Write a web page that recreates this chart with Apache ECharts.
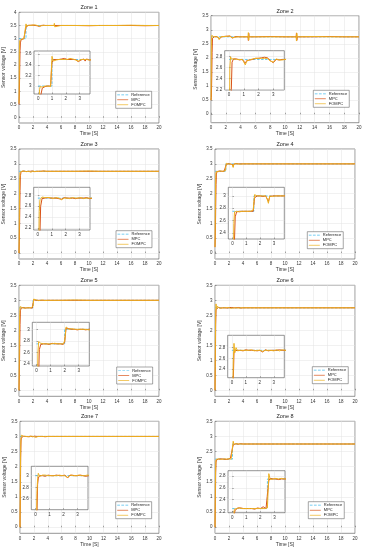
<!DOCTYPE html>
<html><head><meta charset="utf-8">
<script src="https://cdn.jsdelivr.net/npm/echarts@6/dist/echarts.min.js"></script>
<style>html,body{margin:0;padding:0;background:#fff}#c{width:370px;height:550px}</style>
</head><body><div id="c"></div>
<script>
// ---- data ----
const time = [0,0.05,0.1,0.15,0.2,
  0.3,0.4,0.5,0.6,0.7,0.8,0.9,1.0,1.1,1.2,
  1.3,1.4,1.5,1.6,1.7,1.8,1.9,2.0,2.1,2.2,
  2.3,2.4,2.5,2.6,2.7,2.8,2.9,3.0,3.1,3.2,
  3.3,3.4,3.5,3.6,3.7,3.8,
  4,5,5.05,5.1,5.15,6,8,10,11.5,11.55,11.6,11.65,12,14,16,18,20];
const seriesNames = ['Reference','MPC','FOMPC'];
const zoneTitles = ['Zone 1','Zone 2','Zone 3','Zone 4','Zone 5','Zone 6','Zone 7','Zone 8'];

const z1RefT = [0,1,20], z1RefV = [3,3.5,3.5];
const z1Mpc = [0.5,0.9,1.8,2.55,2.84,
  2.96,2.98,2.99,2.99,3.0,2.99,3.0,3.44,3.5,3.49,
  3.5,3.51,3.5,3.5,3.51,3.5,3.52,3.51,3.5,3.52,
  3.5,3.51,3.5,3.49,3.5,3.48,3.46,3.47,3.49,3.5,
  3.51,3.47,3.51,3.5,3.49,3.5,
  3.5,3.5,3.44,3.55,3.5,3.5,3.5,3.49,3.5,3.45,3.55,3.5,3.5,3.5,3.5,3.49,3.5];
const z1Fompc = [0.55,2.5,2.93,2.99,3.0,
  2.98,2.99,3.0,2.99,3.0,3.0,2.99,3.56,3.47,3.5,
  3.49,3.51,3.5,3.51,3.5,3.51,3.5,3.52,3.5,3.51,
  3.52,3.5,3.51,3.5,3.49,3.49,3.47,3.48,3.5,3.49,
  3.5,3.49,3.5,3.51,3.49,3.5,
  3.5,3.5,3.58,3.45,3.5,3.5,3.5,3.5,3.5,3.56,3.46,3.5,3.5,3.5,3.51,3.5,3.5];

const z2RefT = [0,20], z2RefV = [2.75,2.75];
const z2Mpc = [0.5,0.6,1.3,2.2,2.7,
  2.76,2.75,2.76,2.75,2.74,2.76,2.75,2.74,2.68,2.73,
  2.75,2.74,2.76,2.75,2.76,2.77,2.76,2.77,2.76,2.78,
  2.77,2.79,2.77,2.78,2.76,2.73,2.7,2.69,2.72,2.75,
  2.77,2.74,2.76,2.75,2.74,2.75,
  2.75,2.75,2.62,2.88,2.75,2.75,2.76,2.75,2.75,2.89,2.62,2.75,2.75,2.75,2.76,2.75,2.75];
const z2Fompc = [0.5,2.6,2.8,2.76,2.74,
  2.76,2.75,2.75,2.76,2.75,2.74,2.75,2.74,2.65,2.72,
  2.75,2.74,2.75,2.76,2.75,2.77,2.76,2.77,2.78,2.77,
  2.78,2.77,2.78,2.77,2.75,2.72,2.71,2.7,2.73,2.76,
  2.75,2.74,2.76,2.74,2.75,2.75,
  2.75,2.75,2.9,2.63,2.75,2.75,2.75,2.75,2.75,2.6,2.88,2.75,2.75,2.76,2.75,2.75,2.75];

const z3RefT = [0,20], z3RefV = [2.75,2.75];
const z3Mpc = [0,0.4,1.2,2.1,2.6,
  2.74,2.76,2.75,2.75,2.76,2.75,2.75,2.74,2.75,2.76,
  2.75,2.75,2.74,2.75,2.73,2.75,2.76,2.75,2.75,2.74,
  2.75,2.76,2.75,2.75,2.74,2.75,2.75,2.76,2.75,2.74,
  2.75,2.75,2.76,2.75,2.74,2.75,
  2.75,2.75,2.76,2.74,2.75,2.75,2.75,2.75,2.75,2.76,2.74,2.75,2.75,2.75,2.75,2.75,2.75];
const z3Fompc = [0,1.5,2.5,2.72,2.75,
  2.77,2.78,2.76,2.75,2.76,2.75,2.76,2.75,2.74,2.75,
  2.76,2.75,2.75,2.74,2.72,2.75,2.75,2.76,2.75,2.75,
  2.74,2.75,2.76,2.75,2.75,2.74,2.75,2.75,2.76,2.75,
  2.74,2.75,2.75,2.76,2.75,2.75,
  2.75,2.75,2.75,2.75,2.75,2.75,2.75,2.76,2.75,2.75,2.75,2.75,2.75,2.75,2.75,2.75,2.75];

const z4RefT = [0,1.55,20], z4RefV = [2.75,3,3];
const z4Mpc = [0.2,0.6,1.5,2.3,2.66,
  2.74,2.75,2.75,2.76,2.75,2.75,2.75,2.74,2.75,2.75,
  2.75,2.76,2.75,2.97,3.0,3.0,3.01,3.0,3.0,2.99,
  3.0,3.0,2.98,2.91,2.99,3.0,3.0,3.01,3.0,3.0,
  3.0,2.99,3.0,3.0,3.0,3.0,
  3.0,3.0,3.0,3.0,3.0,3.0,3.0,3.0,3.0,3.0,3.0,3.0,3.0,3.0,3.0,3.0,3.0];
const z4Fompc = [0.2,1.6,2.55,2.74,2.76,
  2.75,2.75,2.74,2.75,2.75,2.76,2.75,2.75,2.75,2.74,
  2.75,2.75,2.77,3.02,3.0,3.0,2.99,3.0,3.01,3.0,
  3.0,3.0,2.96,2.88,3.0,3.0,2.99,3.0,3.0,3.01,
  3.0,3.0,3.0,2.99,3.0,3.0,
  3.0,3.0,3.0,3.0,3.0,3.0,3.0,3.0,3.0,3.0,3.0,3.0,3.0,3.0,3.0,3.0,3.0];

const z5RefT = [0,2.0,20], z5RefV = [2.75,3,3];
const z5Mpc = [0,0.5,1.4,2.2,2.65,
  2.74,2.76,2.75,2.76,2.75,2.76,2.74,2.75,2.76,2.75,
  2.75,2.74,2.75,2.76,2.75,2.75,2.74,2.78,3.02,3.0,
  3.01,3.0,3.0,3.01,3.0,3.0,2.99,3.0,3.0,3.01,
  3.0,3.0,2.99,3.0,3.0,3.0,
  3.0,3.0,3.0,3.0,3.0,3.0,3.0,3.0,3.0,3.0,3.0,3.0,3.0,3.0,3.0,3.0,3.0];
const z5Fompc = [0,1.8,2.6,2.79,2.81,
  2.76,2.78,2.75,2.76,2.75,2.74,2.75,2.76,2.75,2.74,
  2.76,2.75,2.75,2.74,2.75,2.76,2.75,2.8,3.04,3.01,
  3.0,3.0,3.01,3.0,3.0,2.99,3.0,3.01,3.0,3.0,
  3.0,3.01,3.0,3.0,2.99,3.0,
  3.0,3.0,3.0,3.0,3.0,3.0,3.01,3.0,3.0,3.0,3.0,3.0,3.0,3.0,3.0,3.0,3.0];

const z6RefT = [0,20], z6RefV = [2.75,2.75];
const z6Mpc = [0,0.8,2.2,2.7,2.74,
  2.76,2.75,2.76,2.75,2.75,2.74,2.75,2.76,2.75,2.75,
  2.74,2.75,2.76,2.75,2.75,2.74,2.75,2.75,2.76,2.72,
  2.75,2.76,2.75,2.74,2.75,2.75,2.76,2.75,2.74,2.75,
  2.75,2.76,2.75,2.75,2.74,2.75,
  2.75,2.75,2.75,2.75,2.75,2.75,2.75,2.75,2.75,2.75,2.75,2.75,2.75,2.75,2.75,2.75,2.75];
const z6Fompc = [0,1.6,2.55,2.88,2.7,
  2.8,2.74,2.77,2.75,2.76,2.75,2.74,2.75,2.76,2.75,
  2.75,2.76,2.75,2.74,2.75,2.75,2.76,2.75,2.74,2.73,
  2.75,2.75,2.74,2.75,2.76,2.75,2.75,2.74,2.75,2.76,
  2.75,2.74,2.75,2.76,2.75,2.75,
  2.75,2.75,2.75,2.75,2.75,2.75,2.75,2.75,2.75,2.75,2.75,2.75,2.75,2.75,2.75,2.75,2.75];

const z7RefT = [0,20], z7RefV = [3,3];
const z7Mpc = [0,0.9,2.3,2.85,2.96,
  3.0,3.01,3.0,3.0,2.99,3.0,3.01,3.0,3.0,2.99,
  3.0,3.0,3.01,3.0,3.0,2.99,3.0,3.0,3.01,3.0,
  2.96,3.0,3.0,3.01,3.0,3.0,2.99,3.0,3.0,3.01,
  3.0,3.0,3.0,2.99,3.0,3.0,
  3.0,3.0,3.0,3.0,3.0,3.0,3.0,3.0,3.0,3.0,3.0,3.0,3.0,3.0,3.0,3.0,3.0];
const z7Fompc = [0,1.7,2.7,2.95,3.04,
  2.99,3.02,3.01,3.0,3.01,3.0,3.0,2.99,3.0,3.01,
  3.0,2.99,3.0,3.0,3.01,3.0,3.0,2.99,3.0,3.0,
  2.97,3.0,3.01,3.0,3.0,2.99,3.0,3.0,3.01,3.0,
  3.0,2.99,3.0,3.0,3.01,3.0,
  3.0,3.0,3.0,3.0,3.0,3.0,3.0,3.0,3.0,3.0,3.0,3.0,3.0,3.0,3.0,3.0,3.0];

const z8RefT = [0,2.5,20], z8RefV = [2.25,2.75,2.75];
const z8Mpc = [0,0.7,1.8,2.15,2.22,
  2.24,2.26,2.25,2.26,2.25,2.25,2.26,2.25,2.24,2.25,
  2.26,2.25,2.25,2.24,2.25,2.26,2.25,2.25,2.25,2.28,
  2.26,2.25,2.25,2.72,2.76,2.75,2.75,2.76,2.75,2.75,
  2.74,2.75,2.75,2.76,2.75,2.75,
  2.75,2.75,2.75,2.75,2.75,2.75,2.75,2.75,2.75,2.75,2.75,2.75,2.75,2.75,2.75,2.75,2.75];
const z8Fompc = [0,1.4,2.1,2.24,2.26,
  2.25,2.25,2.26,2.25,2.25,2.24,2.25,2.26,2.25,2.25,
  2.25,2.26,2.25,2.25,2.25,2.24,2.25,2.26,2.25,2.26,
  2.25,2.26,2.26,2.84,2.74,2.76,2.75,2.75,2.76,2.75,
  2.75,2.75,2.76,2.75,2.75,2.75,
  2.75,2.75,2.75,2.75,2.75,2.75,2.75,2.75,2.75,2.75,2.75,2.75,2.75,2.75,2.75,2.75,2.75];

// tick labels
const xTicks = [0,2,4,6,8,10,12,14,16,18,20];
const yTicks4 = [0,0.5,1,1.5,2,2.5,3,3.5,4];
const yTicks35 = [0,0.5,1,1.5,2,2.5,3,3.5];
const insetXTicks = [0,1,2,3];
const insetYTicks = [
  [3,3.2,3.4,3.6],
  [2.2,2.4,2.6,2.8],
  [2.2,2.4,2.6,2.8],
  [2.4,2.6,2.8,3],
  [2.4,2.6,2.8,3],
  [2.4,2.6,2.8],
  [2.6,2.8,3],
  [2.2,2.4,2.6,2.8]
];
const zoneData = [
  [z1RefT,z1RefV,z1Mpc,z1Fompc],[z2RefT,z2RefV,z2Mpc,z2Fompc],
  [z3RefT,z3RefV,z3Mpc,z3Fompc],[z4RefT,z4RefV,z4Mpc,z4Fompc],
  [z5RefT,z5RefV,z5Mpc,z5Fompc],[z6RefT,z6RefV,z6Mpc,z6Fompc],
  [z7RefT,z7RefV,z7Mpc,z7Fompc],[z8RefT,z8RefV,z8Mpc,z8Fompc]
];

// ---- layout (positions/styles) ----
const layout = [
  {g:[19,12.3,140,110.7], y:[-0.2,4], yt:yTicks4, ig:[34,51,56,43], iy:[2.85,3.66], lg:[115.7,91.3], yn:12},
  {g:[211,15.7,148,107], y:[-0.3,3.5], yt:yTicks35, ig:[224.7,50.7,59.6,39.3], iy:[2.19,2.91], lg:[313.3,90.3], yn:12},
  {g:[19,149,140,110], y:[-0.2,3.5], yt:yTicks35, ig:[33.7,187.3,56.3,42.7], iy:[2.16,2.95], lg:[116,230.7], yn:12},
  {g:[215,149,140,110], y:[-0.2,3.5], yt:yTicks35, ig:[228.3,187.3,56,51.7], iy:[2.3,3.14], lg:[307.3,231.7], yn:13},
  {g:[19,285.3,140,111], y:[-0.2,3.5], yt:yTicks35, ig:[32.3,322.3,57,43.7], iy:[2.37,3.12], lg:[116.7,367], yn:12},
  {g:[215,285.3,140,111], y:[-0.2,3.5], yt:yTicks35, ig:[227.7,335.3,56.6,42.4], iy:[2.24,3.03], lg:[312.3,366.7], yn:13},
  {g:[20,421.3,139,112], y:[-0.2,3.5], yt:yTicks35, ig:[31.3,466.3,56.7,43.4], iy:[2.42,3.16], lg:[115.7,501.7], yn:12},
  {g:[215,421.3,140,112], y:[-0.2,3.5], yt:yTicks35, ig:[228,470.7,57,42], iy:[2.18,2.89], lg:[308.3,501.7], yn:13}
];
const colors = {Reference:'#4DBEEE', MPC:'#D95319', FOMPC:'#EDB120'};
const FONT = 'Liberation Sans, Arial, sans-serif';
const ICON_LINE = 'path://M0,0H16V1H0Z';
const ICON_DASH = 'path://M0,0H4V1H0Z M6,0H10V1H6Z M12,0H16V1H12Z';

const grids=[], xAxes=[], yAxes=[], series=[], titles=[], legends=[];
layout.forEach((L, k) => {
  const [rt, rv, mpc, fompc] = zoneData[k];
  const refData = rt.map((t,i)=>[t, rv[i]]);
  const mpcData = time.map((t,i)=>[t, mpc[i]]);
  const foData = time.map((t,i)=>[t, fompc[i]]);
  [0,1].forEach(isInset => {
    const box = isInset ? L.ig : L.g;
    const gi = grids.length;
    const zb = isInset ? 5 : 0;
    grids.push({left:box[0], top:box[1], width:box[2], height:box[3], show:true,
      backgroundColor:'#fff', borderColor:'#4d4d4d', borderWidth:0.6, z:zb});
    const common = {
      gridIndex:gi, z:zb+1,
      axisLine:{show:false},
      axisTick:{show:true, inside:true, length:1.5, lineStyle:{color:'#4d4d4d', width:0.5}},
      splitLine:{show:true, lineStyle:{color:'#e3e3e3', width:0.5}},
      axisLabel:{color:'#333', fontSize:4.5, fontFamily:FONT, margin:2.5}
    };
    if (!isInset) {
      xAxes.push(Object.assign({}, common, {type:'value', min:0, max:20, interval:2,
        name:'Time [S]', nameLocation:'middle', nameGap:7.5,
        nameTextStyle:{fontSize:5, color:'#333', fontFamily:FONT}}));
      yAxes.push(Object.assign({}, common, {type:'value', min:L.y[0], max:L.y[1],
        axisLabel:Object.assign({}, common.axisLabel, {customValues:L.yt}),
        axisTick:Object.assign({}, common.axisTick, {customValues:L.yt}),
        name:'Sensor voltage [V]', nameLocation:'middle', nameGap:L.yn,
        nameTextStyle:{fontSize:5, color:'#333', fontFamily:FONT}}));
    } else {
      xAxes.push(Object.assign({}, common, {type:'value', min:-0.3, max:3.75,
        axisLabel:Object.assign({}, common.axisLabel, {customValues:insetXTicks}),
        axisTick:Object.assign({}, common.axisTick, {customValues:insetXTicks})}));
      yAxes.push(Object.assign({}, common, {type:'value', min:L.iy[0], max:L.iy[1],
        axisLabel:Object.assign({}, common.axisLabel, {customValues:insetYTicks[k]}),
        axisTick:Object.assign({}, common.axisTick, {customValues:insetYTicks[k]})}));
    }
    const mk = (name, data, extra) => Object.assign({
      type:'line', name, xAxisIndex:gi, yAxisIndex:gi, data,
      symbol:'none', showSymbol:false, animation:false, clip:true, z:zb+2,
      lineStyle:{color:colors[name], width:1}, itemStyle:{color:colors[name]}
    }, extra||{});
    series.push(mk('Reference', refData, {step:'end', lineStyle:{color:colors.Reference, width:0.9, type:[2.5,1.5]}}));
    series.push(mk('MPC', mpcData));
    series.push(mk('FOMPC', foData));
  });
  titles.push({text:zoneTitles[k], left:L.g[0]+L.g[2]/2, top:L.g[1]-7.5, textAlign:'center', padding:0,
    textStyle:{fontSize:5.5, fontWeight:'normal', color:'#222', fontFamily:FONT}});
  legends.push({
    data:[{name:seriesNames[0], icon:ICON_DASH},{name:seriesNames[1], icon:ICON_LINE},{name:seriesNames[2], icon:ICON_LINE}],
    left:L.lg[0], top:L.lg[1], orient:'vertical', z:10, symbolKeepAspect:true,
    itemWidth:11, itemHeight:4, itemGap:1, padding:[1.5,2,1.5,1.5],
    backgroundColor:'#fff', borderColor:'#4d4d4d', borderWidth:0.5, selectedMode:false,
    textStyle:{fontSize:4, color:'#222', fontFamily:FONT, padding:[0,0,0,-2]}});
});

const chart = echarts.init(document.getElementById('c'), null, {renderer:'canvas'});
chart.setOption({animation:false, title:titles, legend:legends, grid:grids, xAxis:xAxes, yAxis:yAxes, series});
</script></body></html>
